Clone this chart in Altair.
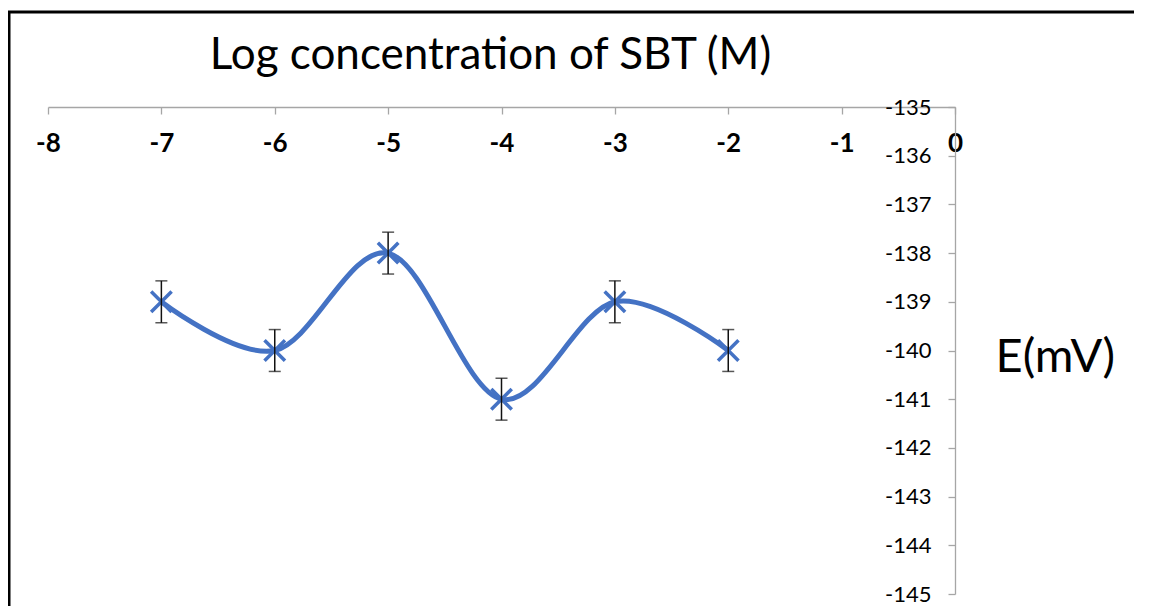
import altair as alt
import pandas as pd

# ---- data ----
log_conc = [-7, -6, -5, -4, -3, -2]
potential = [-139, -140, -138, -141, -139, -140]
error = [0.43, 0.43, 0.43, 0.43, 0.43, 0.43]
x_ticks = [-8, -7, -6, -5, -4, -3, -2, -1, 0]
y_ticks = [-145, -144, -143, -142, -141, -140, -139, -138, -137, -136, -135]

df = pd.DataFrame({"x": log_conc, "y": potential, "err": error})
df["lo"] = df["y"] - df["err"]
df["hi"] = df["y"] + df["err"]

W, H = 907, 487
BLUE = "#4472C4"
GREY = "#a6a6a6"
FONT = "Lato"

xs = alt.Scale(domain=[-8, 0], nice=False, zero=False)
ys = alt.Scale(domain=[-145, -135], nice=False, zero=False)

x_axis = alt.Axis(
    orient="bottom", offset=-H, values=x_ticks,
    title="Log concentration of SBT (M)", titleFont=FONT, titleFontSize=44,
    titleFontWeight="normal", titleColor="black", titleX=442, titleY=-52,
    titleBaseline="middle", titleAlign="center",
    labelFont=FONT, labelFontSize=26, labelFontWeight="bold", labelColor="black",
    labelBaseline="middle", labelPadding=29, labelFlush=False, labelOverlap=False,
    labelExpr="'' + datum.value",
    tickSize=7, tickColor=GREY, tickWidth=1.3, domainColor=GREY, domainWidth=1.3,
    grid=False,
)
y_axis = alt.Axis(
    orient="left", offset=-W, values=y_ticks,
    title="E(mV)", titleFont=FONT, titleFontSize=47, titleFontWeight="normal",
    titleColor="black", titleAngle=0, titleX=40, titleY=250,
    titleAlign="left", titleBaseline="middle",
    labelFont=FONT, labelFontSize=22, labelColor="black", labelPadding=17,
    labelBaseline="middle", labelFlush=False, labelOverlap=False,
    labelExpr="'' + datum.value",
    tickSize=7, tickColor=GREY, tickWidth=1.3, domainColor=GREY, domainWidth=1.3,
    grid=False,
)

base = alt.Chart(df)
X = alt.X("x:Q", scale=xs, axis=x_axis)

line = base.mark_line(interpolate="cardinal", tension=0, color=BLUE, strokeWidth=5).encode(
    x=X, y=alt.Y("y:Q", scale=ys, axis=y_axis)
)
points = base.mark_point(
    shape="M -1 -1 L 1 1 M -1 1 L 1 -1", filled=False, stroke=BLUE,
    strokeWidth=3.5, size=420, opacity=1
).encode(x=X, y=alt.Y("y:Q", scale=ys, axis=y_axis))
err_rule = base.mark_rule(color="#111111", strokeWidth=1.5).encode(
    x=X, y=alt.Y("lo:Q", scale=ys, axis=y_axis), y2="hi:Q"
)
cap_lo = base.mark_tick(orient="horizontal", size=12, thickness=1.5, color="#111111").encode(
    x=X, y=alt.Y("lo:Q", scale=ys, axis=y_axis)
)
cap_hi = base.mark_tick(orient="horizontal", size=12, thickness=1.5, color="#111111").encode(
    x=X, y=alt.Y("hi:Q", scale=ys, axis=y_axis)
)

frame_data = alt.Data(values=[{"k": 1}])
frame_left = alt.Chart(frame_data).mark_rule(color="black", strokeWidth=3).encode(
    x=alt.value(-39), y=alt.value(-96), y2=alt.value(700)
)
frame_top = alt.Chart(frame_data).mark_rule(color="black", strokeWidth=3).encode(
    x=alt.value(-40.5), x2=alt.value(1300), y=alt.value(-95)
)

chart = alt.layer(line, points, err_rule, cap_lo, cap_hi, frame_left, frame_top).properties(
    width=W, height=H,
    padding={"left": 40, "top": 99, "right": 179, "bottom": 12},
    autosize=alt.AutoSizeParams(type="none"),
    background="white",
).configure_view(stroke=None)

chart.save("out.html", embed_options={"renderer": "svg", "actions": False})
